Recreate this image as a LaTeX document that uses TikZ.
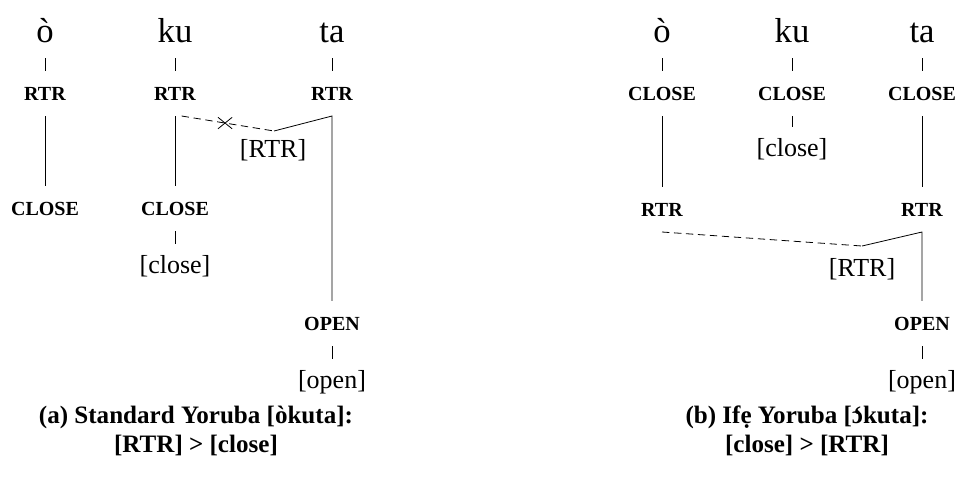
\documentclass[tikz,border=0pt]{standalone}
\usepackage{fontspec}
\setmainfont{Liberation Serif}
\usetikzlibrary{shapes.misc}
\begin{document}
\begin{tikzpicture}[x=0.75pt,y=-0.75pt,
  every node/.style={inner sep=0pt},
  seg/.style={text depth=0pt, font=\fontsize{26}{30}\selectfont, anchor=base, outer ysep=12pt},
  feat/.style={font=\fontsize{15}{17}\selectfont\bfseries, anchor=base, outer ysep=12pt},
  lab/.style={font=\fontsize{19.5}{22}\selectfont, anchor=base, outer ysep=8pt},
  caption/.style={font=\fontsize{18.8}{21.5}\selectfont\bfseries, align=center, anchor=north},
  assoc/.style={line width=0.6pt},
  spread/.style={assoc, dash pattern=on 5.5pt off 3.5pt},
  blocked/.style={draw, solid, cross out, minimum width=10pt, minimum height=8pt, line width=0.6pt}
]
\useasboundingbox (0,0) rectangle (957,487);

% ---------- (a) Standard Yoruba ----------
\node[seg] (a1) at (45,42) {ò};
\node[seg] (a2) at (175,42) {ku};
\node[seg] (a3) at (332,42) {ta};
\node[feat] (a4) at (45,100) {RTR};
\node[feat] (a5) at (175,100) {RTR};
\node[feat] (a6) at (332,100) {RTR};
\node[feat] (a7) at (45,215) {CLOSE};
\node[feat] (a8) at (175,215) {CLOSE};
\node[lab] (a9) at (175,273) {[close]};
\coordinate (ak) at (274,131);
\node[lab] (a10) at (273,157) {[RTR]};
\node[feat] (a11) at (332,330) {OPEN};
\node[lab] (a12) at (332,388) {[open]};
\coordinate (ad) at ([xshift=5pt]a5.south);

\draw[assoc] (a1) -- (a4);
\draw[assoc] (a2) -- (a5);
\draw[assoc] (a3) -- (a6);
\draw[assoc] (a4) -- (a7);
\draw[assoc] (a5) -- (a8);
\draw[assoc] (a8) -- (a9);
\draw[assoc] (ak) -- (a6.south) -- (a11.north);
\draw[assoc] (a11) -- (a12);
\draw[spread] (ad) -- node[pos=0.47, blocked] (ax) {} (ak);

\node[caption] (ca) at (196,406) {(a) Standard Yoruba [òkuta]:\\ {[RTR] > [close]}};

% ---------- (b) Ife Yoruba ----------
\node[seg] (b1) at (662,42) {ò};
\node[seg] (b2) at (792,42) {ku};
\node[seg] (b3) at (922,42) {ta};
\node[feat] (b4) at (662,100) {CLOSE};
\node[feat] (b5) at (792,100) {CLOSE};
\node[feat] (b6) at (922,100) {CLOSE};
\node[lab] (b8) at (792,156) {[close]};
\node[feat] (b7) at (662,216) {RTR};
\node[feat] (b9) at (922,216) {RTR};
\coordinate (bk) at (862,246);
\node[lab] (b10) at (862,276) {[RTR]};
\node[feat] (b11) at (922,330) {OPEN};
\node[lab] (b12) at (922,388) {[open]};

\draw[assoc] (b1) -- (b4);
\draw[assoc] (b2) -- (b5);
\draw[assoc] (b3) -- (b6);
\draw[assoc] (b5) -- (b8);
\draw[assoc] (b4) -- (b7);
\draw[assoc] (b6) -- (b9);
\draw[assoc] (bk) -- (b9.south) -- (b11.north);
\draw[assoc] (b11) -- (b12);
\draw[spread] (b7.south) -- (bk);

\node[caption] (cb) at (807,406) {(b) Ifẹ Yoruba [\accent"60 ɔkuta]:\\ {[close] > [RTR]}};
\end{tikzpicture}
\end{document}
